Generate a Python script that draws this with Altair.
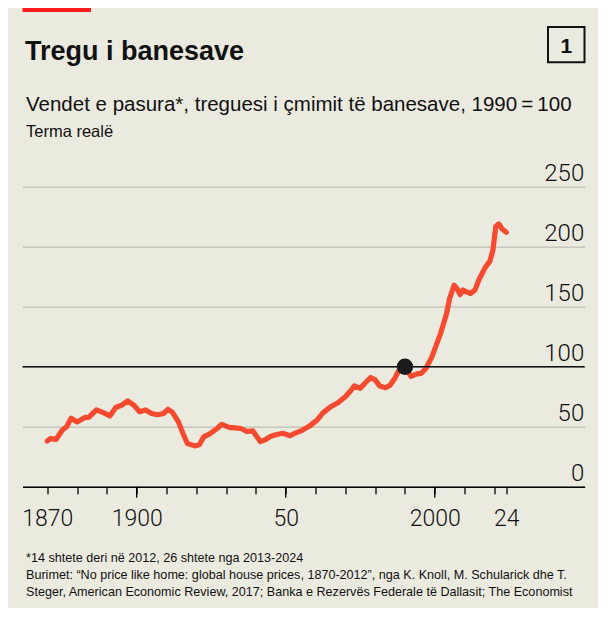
import altair as alt
import pandas as pd

# ---- data ----
years = [1870, 1871, 1873, 1875, 1876.5, 1878, 1880, 1882.5, 1884, 1886.5, 1889, 1891,
         1893, 1895, 1897, 1899, 1901, 1903, 1905, 1907, 1909, 1910.5, 1912, 1914,
         1915.5, 1917, 1919.5, 1921, 1922.5, 1924.5, 1927, 1928.5, 1931, 1933, 1935,
         1937, 1939, 1941.5, 1943, 1945, 1947, 1949, 1951.5, 1953, 1955.5, 1958,
         1960.5, 1962.5, 1965, 1967.5, 1970, 1972, 1973, 1975, 1976.5, 1978.5, 1980,
         1981.5, 1983.5, 1985, 1986.5, 1988, 1990, 1992, 1994, 1995.5, 1997, 1999,
         2000.5, 2002, 2004, 2005, 2006.5, 2007.5, 2008.5, 2009.5, 2010.5, 2012,
         2013.5, 2015, 2017, 2018.5, 2019.5, 2020.5, 2021.5, 2022.5, 2024]
index = [38, 40, 39.5, 47, 50, 57, 54, 57.5, 58, 64, 61.5, 59,
         66, 68, 71.5, 68, 62.5, 64, 61, 60, 61, 64.5, 62, 54,
         44.5, 36, 34, 35, 41.5, 44, 48.5, 52, 49.5, 49, 48.5,
         46, 46.5, 37.5, 39, 42, 43.5, 44.5, 42.5, 44.5, 47, 50.5,
         55.5, 61.5, 66.5, 70, 75, 80.5, 84, 82, 86, 91, 89,
         84, 82.5, 84.5, 90, 97, 100, 92, 94, 94.5, 98.5, 108,
         118, 128, 144.5, 157, 168, 165, 160, 164, 162.5, 161,
         164, 173.5, 183, 188, 197, 217, 219, 215, 212]

y_ticks = [0, 50, 100, 150, 200, 250]
x_ticks = [1870, 1880, 1890, 1900, 1910, 1920, 1930, 1940, 1950, 1960, 1970,
           1980, 1990, 2000, 2010, 2020, 2024]
x_long_ticks = [1900, 1950, 2000]
base_year = [1990]
base_value = [100]

title = "Tregu i banesave"
subtitle = "Vendet e pasura*, treguesi i çmimit të banesave, 1990\u2009=\u2009100"
subtitle2 = "Terma realë"
chart_no = "1"
notes = [
    "*14 shtete deri në 2012, 26 shtete nga 2013-2024",
    "Burimet: \u201cNo price like home: global house prices, 1870-2012\u201d, nga K. Knoll, M. Schularick dhe T.",
    "Steger, American Economic Review, 2017; Banka e Rezervës Federale të Dallasit; The Economist",
]

BG = "#EBEADF"
LINE = "#F64A2E"
FONT = "Liberation Sans, Arial, sans-serif"
NUM = "Roboto, Liberation Sans, sans-serif"

W, H = 562.2, 300

df = pd.DataFrame({"year": years, "value": index})
base = pd.DataFrame({"year": base_year, "value": base_value})

x_scale = alt.Scale(domain=[1861.7, 2050.3], nice=False, zero=False)
y_scale = alt.Scale(domain=[0, 250], nice=False)

label_expr = ("datum.value == 1870 ? '1870' : datum.value == 1900 ? '1900' : "
              "datum.value == 1950 ? '50' : datum.value == 2000 ? '2000' : "
              "datum.value == 2024 ? '24' : ''")

x_axis = alt.Axis(values=x_ticks, labelExpr=label_expr, grid=False,
                  domainColor="black", domainWidth=1.5,
                  tickColor="black", tickWidth=1.3, tickSize=7,
                  labelFont=NUM, labelFontSize=23, labelFontWeight=300, labelColor="#111",
                  labelBaseline="alphabetic", labelPadding=31.3,
                  labelOverlap=False, labelFlush=False, labelBound=False)
y_axis = alt.Axis(values=y_ticks, orient="right", grid=True,
                  gridColor="#BEBDB4", gridWidth=1.3,
                  domain=False, ticks=False,
                  labelFont=NUM, labelFontSize=24, labelFontWeight=300, labelColor="#111",
                  labelAlign="right", labelBaseline="alphabetic",
                  labelPadding=-1, labelOffset=-6.7,
                  labelOverlap=False, labelFlush=False, labelBound=False)


def X():
    return alt.X("year:Q", scale=x_scale, title=None, axis=x_axis)


def Y():
    return alt.Y("value:Q", scale=y_scale, title=None, axis=y_axis)


line = alt.Chart(df).mark_line(
    color=LINE, strokeWidth=5.2, strokeJoin="round", strokeCap="round"
).encode(x=X(), y=Y())

ref_rule = alt.Chart(base).mark_rule(color="#111", strokeWidth=1.6).encode(y=Y())

long_ticks = alt.Chart(pd.DataFrame({"year": x_long_ticks})).mark_rule(
    color="black", strokeWidth=1.3
).encode(x=X(), y=alt.value(H), y2=alt.value(H + 11))

dot = alt.Chart(base).mark_circle(color="#1A1A1A", opacity=1, size=270).encode(
    x=X(), y=Y()
)


def text_layer(txt, x, y, size, weight="normal", font=FONT, align="left", color="#111"):
    return alt.Chart(pd.DataFrame({"t": [txt]})).mark_text(
        align=align, baseline="alphabetic", font=font, fontSize=size,
        fontWeight=weight, color=color
    ).encode(text="t:N", x=alt.value(x), y=alt.value(y))


red_bar = alt.Chart(pd.DataFrame({"t": [0]})).mark_rect(color="#FC1B1B").encode(
    x=alt.value(0), x2=alt.value(68.5), y=alt.value(-190), y2=alt.value(-174.7)
)
box = alt.Chart(pd.DataFrame({"t": [0]})).mark_rect(
    fill=None, stroke="#111", strokeWidth=2
).encode(
    x=alt.value(525.5), x2=alt.value(562), y=alt.value(-159.7), y2=alt.value(-124.4)
)

layers = [
    line, ref_rule, long_ticks, dot, red_bar, box,
    text_layer(title, 2.5, -126.7, 27, weight="bold"),
    text_layer(chart_no, 543.8, -133.5, 21, weight="bold", align="center"),
    text_layer(subtitle, 3.5, -75.7, 20.5),
    text_layer(subtitle2, 3.5, -49.4, 16.5),
    text_layer(notes[0], 3.5, 375.6, 12.6),
    text_layer(notes[1], 3.5, 392.6, 12.6),
    text_layer(notes[2], 3.5, 409.0, 12.6),
]

chart = alt.layer(*layers).properties(
    width=W, height=H,
    padding={"left": 14.5, "top": 178.7, "right": 13.3, "bottom": 121.3},
    autosize=alt.AutoSizeParams(type="none"),
    background=BG,
).configure_view(stroke=None)

chart.save("out.html", embed_options={"renderer": "svg", "actions": False})
